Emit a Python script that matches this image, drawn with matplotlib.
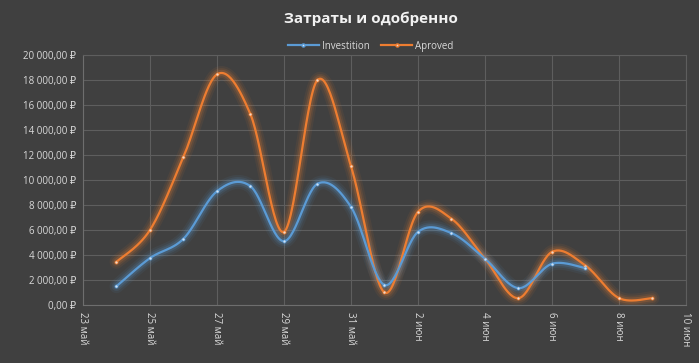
import matplotlib
matplotlib.use("Agg")
import matplotlib.pyplot as plt
import numpy as np

# day numbers in May/June 2024 (24 май .. 9 июн)
days = ["2024-05-24", "2024-05-25", "2024-05-26", "2024-05-27", "2024-05-28",
        "2024-05-29", "2024-05-30", "2024-05-31", "2024-06-01", "2024-06-02",
        "2024-06-03", "2024-06-04", "2024-06-05", "2024-06-06", "2024-06-07",
        "2024-06-08", "2024-06-09"]
investition = [1500, 3750, 5300, 9100, 9500, 5100, 9700, 7850, 1600, 5850,
               5750, 3700, 1350, 3300, 2950]
aproved = [3450, 6000, 11850, 18450, 15250, 5850, 18000, 11100, 1000, 7450,
           6900, 3700, 550, 4250, 3150, 550, 550]
tick_dates = ["2024-05-23", "2024-05-25", "2024-05-27", "2024-05-29", "2024-05-31",
              "2024-06-02", "2024-06-04", "2024-06-06", "2024-06-08", "2024-06-10"]
tick_labels = ["23 май", "25 май", "27 май", "29 май", "31 май",
               "2 июн", "4 июн", "6 июн", "8 июн", "10 июн"]
y_ticks = list(range(0, 20001, 2000))

BG = "#404040"
TEXT = "#d9d9d9"
GRID = "#5e5e5e"
BLUE = "#5b9bd5"
ORANGE = "#ed7d31"
FONT = ["Open Sans", "DejaVu Sans"]


def to_num(values):
    base = np.datetime64("2024-05-23")
    return (np.array(values, dtype="datetime64[D]") - base).astype(float)


def smooth(x, y, steps=30):
    # excel-like smoothed line: bezier through points, control = p +- (next - prev) / 6
    x = np.asarray(x, float)
    y = np.asarray(y, float)
    px = np.concatenate([[x[0]], x, [x[-1]]])
    py = np.concatenate([[y[0]], y, [y[-1]]])
    out_x, out_y = [], []
    t = np.linspace(0, 1, steps)
    for i in range(1, len(px) - 2):
        p0 = np.array([px[i], py[i]])
        p3 = np.array([px[i + 1], py[i + 1]])
        c1 = p0 + (p3 - np.array([px[i - 1], py[i - 1]])) / 6
        c2 = p3 - (np.array([px[i + 2], py[i + 2]]) - p0) / 6
        pts = (((1 - t) ** 3)[:, None] * p0 + (3 * (1 - t) ** 2 * t)[:, None] * c1
               + (3 * (1 - t) * t ** 2)[:, None] * c2 + (t ** 3)[:, None] * p3)
        out_x.extend(pts[:, 0])
        out_y.extend(pts[:, 1])
    return np.array(out_x), np.array(out_y)


plt.rcParams["font.family"] = FONT
fig = plt.figure(figsize=(6.99, 3.63), dpi=100, facecolor=BG)
ax = fig.add_axes([0.1187, 0.1598, 0.8627, 0.6887], facecolor=BG)

for values, color, label in ((aproved, ORANGE, "Aproved"), (investition, BLUE, "Investition")):
    x = to_num(days[:len(values)])
    sx, sy = smooth(x, values)
    for width, alpha in ((10, 0.07), (7, 0.11), (4.5, 0.18)):
        ax.plot(sx, sy, color=color, lw=width, alpha=alpha, solid_capstyle="round", zorder=2)
    ax.plot(sx, sy, color=color, lw=1.6, zorder=3)
    ax.plot(x, values, "o", color="#f2d7c4" if color == ORANGE else "#cfe2f5",
            ms=2.2, mec=color, mew=0.5, zorder=4)

handles = [plt.Line2D([], [], color=BLUE, lw=1.6, marker="o", ms=2.2, mfc="#cfe2f5", mec=BLUE),
           plt.Line2D([], [], color=ORANGE, lw=1.6, marker="o", ms=2.2, mfc="#f2d7c4", mec=ORANGE)]
leg = fig.legend(handles, ["Investition", "Aproved"], loc="center", bbox_to_anchor=(0.53, 0.873),
                 ncol=2, frameon=False, fontsize=7, handlelength=3.2, columnspacing=1.2,
                 handletextpad=0.3)
for text in leg.get_texts():
    text.set_color(TEXT)

ax.set_xlim(0, to_num(["2024-06-10"])[0])
ax.set_ylim(0, 20000)
ax.set_xticks(to_num(tick_dates))
ax.set_xticklabels(tick_labels, rotation=-90, fontsize=7, color=TEXT, va="top", ha="center")
ax.set_yticks(y_ticks)
ax.set_yticklabels([f"{v:,.2f}".replace(",", " ").replace(".", ",") + " ₽" for v in y_ticks],
                   fontsize=7, color=TEXT)
ax.tick_params(length=0, pad=5)
ax.grid(True, color=GRID, lw=0.8)
ax.set_axisbelow(True)
for side in ("top", "right"):
    ax.spines[side].set_color(GRID)
for side in ("left", "bottom"):
    ax.spines[side].set_color("#6e6e6e")

fig.text(0.53, 0.948, "Затраты и одобренно", ha="center", va="center",
         fontsize=11, fontweight="bold", color="#f2f2f2")

fig.savefig("out.png", dpi=100, facecolor=BG)
